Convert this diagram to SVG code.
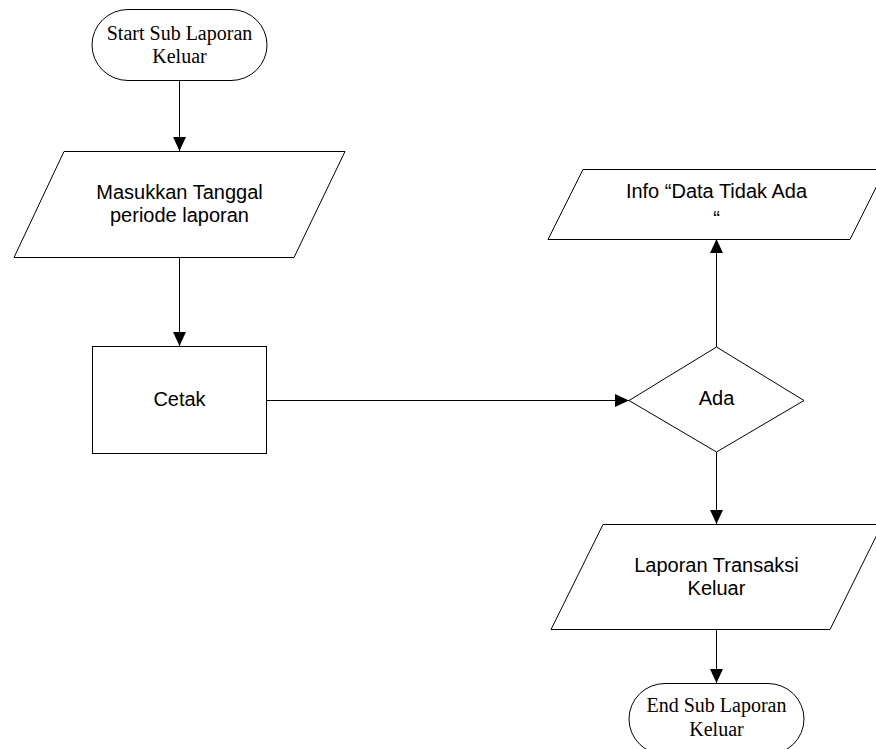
<svg xmlns="http://www.w3.org/2000/svg" width="876" height="749" viewBox="0 0 876 749">
<style>
.shape{fill:#fff;stroke:#000;stroke-width:1}
.serif{font-family:"Liberation Serif","Times New Roman",serif;font-size:20px;fill:#000;text-anchor:middle}
.sans{font-family:"Liberation Sans",Arial,sans-serif;font-size:20px;fill:#000;text-anchor:middle}
.conn{fill:none;stroke:#000;stroke-width:1}
</style>
<defs>
<marker id="arr" markerUnits="userSpaceOnUse" markerWidth="14" markerHeight="14" viewBox="0 0 13 12" refX="13" refY="6" orient="auto">
<path d="M0,0 L13,6 L0,12 Z" fill="#000"/>
</marker>
</defs>
<rect width="876" height="749" fill="#fff"/>
<g id="connectors">
<line class="conn" x1="179.5" y1="81" x2="179.5" y2="151" marker-end="url(#arr)"/>
<line class="conn" x1="179.5" y1="257" x2="179.5" y2="346" marker-end="url(#arr)"/>
<line class="conn" x1="267" y1="400.5" x2="629" y2="400.5" marker-end="url(#arr)"/>
<line class="conn" x1="716.5" y1="347" x2="716.5" y2="239" marker-end="url(#arr)"/>
<line class="conn" x1="716.5" y1="452" x2="716.5" y2="524" marker-end="url(#arr)"/>
<line class="conn" x1="716.5" y1="629" x2="716.5" y2="683" marker-end="url(#arr)"/>
</g>
<g id="start">
<rect class="shape" x="92" y="9.5" width="175" height="71" rx="36" ry="35.5"/>
<text class="serif" x="179.5" y="40">Start Sub Laporan</text>
<text class="serif" x="179.5" y="63">Keluar</text>
</g>
<g id="input">
<polygon class="shape" points="64,151.5 345,151.5 294,257.5 14,257.5"/>
<text class="sans" x="179.5" y="199">Masukkan Tanggal</text>
<text class="sans" x="179.5" y="222">periode laporan</text>
</g>
<g id="cetak">
<rect class="shape" x="92.5" y="346.5" width="174" height="107"/>
<text class="sans" x="179.5" y="406">Cetak</text>
</g>
<g id="ada">
<polygon class="shape" points="629,400.5 716.5,347 804,400.5 716.5,452"/>
<text class="sans" x="716.5" y="405">Ada</text>
</g>
<g id="info">
<polygon class="shape" points="583,169.5 885,169.5 850,239.5 548,239.5"/>
<text class="sans" x="716.5" y="198">Info “Data Tidak Ada</text>
<text class="sans" x="716.5" y="225">“</text>
</g>
<g id="laporan">
<polygon class="shape" points="603,524.5 882,524.5 830,629.5 551,629.5"/>
<text class="sans" x="716.5" y="572">Laporan Transaksi</text>
<text class="sans" x="716.5" y="595">Keluar</text>
</g>
<g id="end">
<rect class="shape" x="629" y="683.5" width="175" height="71" rx="36" ry="35.5"/>
<text class="serif" x="716.5" y="712">End Sub Laporan</text>
<text class="serif" x="716.5" y="736">Keluar</text>
</g>
</svg>
